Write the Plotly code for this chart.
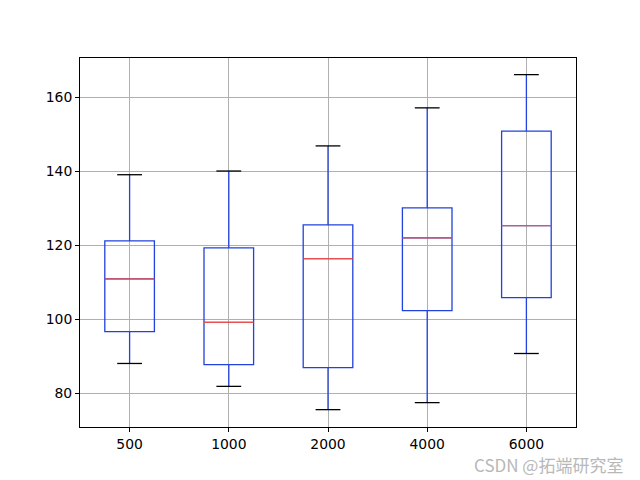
import plotly.graph_objects as go

categories = ["500", "1000", "2000", "4000", "6000"]
lower_whisker = [88.0, 81.8, 75.5, 77.4, 90.7]
q1_values = [96.6, 87.7, 86.9, 102.3, 105.8]
median_values = [110.9, 99.1, 116.4, 122.0, 125.3]
q3_values = [121.2, 119.3, 125.5, 130.1, 150.9]
upper_whisker = [139.1, 140.1, 146.9, 157.2, 166.2]

y_ticks = [80, 100, 120, 140, 160]

BOX_COLOR = "#2142dc"
MEDIAN_COLOR = "#e55050"
CAP_COLOR = "#000000"
GRID = "#b0b0b0"

positions = list(range(len(categories)))
box_w = 0.5
cap_half = 0.125

fig = go.Figure()
fig.add_trace(go.Box(
    x=positions,
    q1=q1_values, median=median_values, q3=q3_values,
    lowerfence=lower_whisker, upperfence=upper_whisker,
    width=box_w,
    whiskerwidth=0,
    line=dict(color=BOX_COLOR, width=1.3),
    fillcolor="rgba(0,0,0,0)",
    boxpoints=False,
    hoverinfo="skip",
    showlegend=False,
))

# medians
mx, my = [], []
for p, m in zip(positions, median_values):
    mx += [p - box_w / 2, p + box_w / 2, None]
    my += [m, m, None]
fig.add_trace(go.Scatter(x=mx, y=my, mode="lines",
                         line=dict(color=MEDIAN_COLOR, width=1.3),
                         showlegend=False, hoverinfo="skip"))

# caps
cx, cy = [], []
for p, lo, hi in zip(positions, lower_whisker, upper_whisker):
    cx += [p - cap_half, p + cap_half, None, p - cap_half, p + cap_half, None]
    cy += [lo, lo, None, hi, hi, None]
fig.add_trace(go.Scatter(x=cx, y=cy, mode="lines",
                         line=dict(color=CAP_COLOR, width=1.3),
                         showlegend=False, hoverinfo="skip"))

font = dict(family="DejaVu Sans", size=13.9, color="black")

fig.update_layout(
    width=640, height=480,
    margin=dict(l=80, r=64, t=58, b=53),
    paper_bgcolor="white", plot_bgcolor="white",
    font=font,
    xaxis=dict(
        range=[-0.5, 4.5],
        tickvals=positions, ticktext=categories,
        showgrid=True, gridcolor=GRID, gridwidth=1,
        zeroline=False,
        showline=True, linecolor="black", linewidth=1, mirror=True,
        ticks="outside", ticklen=4, tickcolor="black",
        tickfont=font,
    ),
    yaxis=dict(
        range=[70.8, 170.7],
        tickvals=y_ticks,
        showgrid=True, gridcolor=GRID, gridwidth=1,
        zeroline=False,
        showline=True, linecolor="black", linewidth=1, mirror=True,
        ticks="outside", ticklen=4, tickcolor="black",
        tickfont=font,
    ),
    annotations=[dict(
        text="CSDN @拓端研究室", xref="paper", yref="paper",
        x=1.099, y=-0.102, xanchor="right", yanchor="middle",
        showarrow=False,
        font=dict(family="Noto Sans CJK SC", size=17, color="#b8b8b8"),
    )],
)

fig.write_html("out.html")
